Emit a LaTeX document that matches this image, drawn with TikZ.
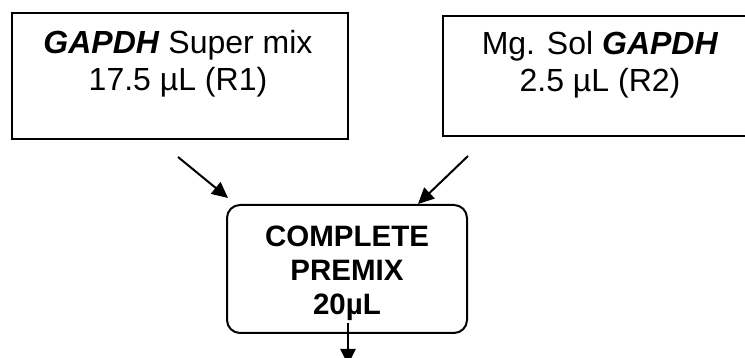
\documentclass[tikz,border=0pt]{standalone}
\usepackage{fontspec}
\setmainfont{Liberation Sans}
\usetikzlibrary{arrows.meta}
\begin{document}
\begin{tikzpicture}[x=1pt,y=-1pt,
  boxline/.style={draw=black, line width=2pt, inner sep=0pt},
  rtext/.style={inner sep=0pt, align=center, anchor=north, font={\fontsize{32}{37}\selectfont}},
  ctext/.style={inner sep=0pt, align=center, anchor=north, font={\fontsize{29.5}{34}\selectfont\bfseries}},
  flow/.style={line width=2pt, -{Triangle[length=16pt,width=15pt]}}
]
\useasboundingbox (0,0) rectangle (745,358);
\clip (0,0) rectangle (745,358);
% source boxes
\node[boxline, minimum width=336pt, minimum height=126pt] (r1) at (180,76) {};
\node[rtext] (r1text) at (178,30) {\textbf{\textit{GAPDH}} Super mix\\17.5 µL (R1)};
\node[boxline, minimum width=314pt, minimum height=120pt] (r2) at (600,76) {};
\node[rtext] (r2text) at (600,31) {Mg. Sol \textbf{\textit{GAPDH}}\\2.5 µL (R2)};
% premix box
\node[boxline, rounded corners=13pt, minimum width=240pt, minimum height=128pt] (pm) at (347,269) {};
\node[ctext] (pmtext) at (347,226) {COMPLETE\\PREMIX\\20µL};
% connectors
\coordinate (a1s) at (178,157);
\coordinate (a1e) at (228,198);
\coordinate (a2s) at (468,156);
\coordinate (a2e) at (418,204);
\coordinate (a3s) at (348,323);
\coordinate (a3e) at (348,365);
\draw[flow] (a1s) -- (a1e);
\draw[flow] (a2s) -- (a2e);
\draw[flow] (a3s) -- (a3e);
\end{tikzpicture}
\end{document}
